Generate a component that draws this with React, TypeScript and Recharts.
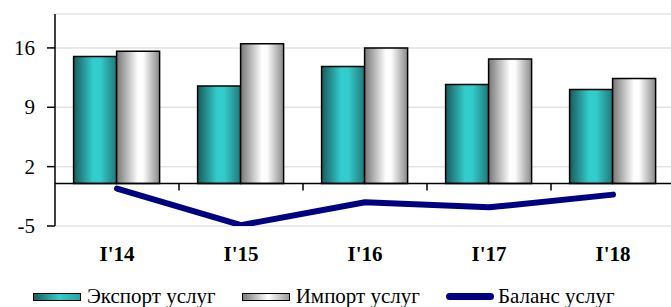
import React from 'react';
import {
    ComposedChart,
    Bar,
    Line,
    XAxis,
    YAxis,
    CartesianGrid,
    Legend,
    ReferenceLine,
} from 'recharts';

const quarters = ["I'14", "I'15", "I'16", "I'17", "I'18"];
const exportServices = [15.0, 11.5, 13.8, 11.7, 11.1];
const importServices = [15.6, 16.5, 16.0, 14.7, 12.4];
const balanceServices = [-0.6, -4.9, -2.2, -2.8, -1.3];
const yTicks = [-5, 2, 9, 16];

const data = quarters.map((q, i) => ({
    name: q,
    exp: exportServices[i],
    imp: importServices[i],
    bal: balanceServices[i],
}));

const serif = '"Liberation Serif", "Times New Roman", serif';

// zero line with small tick marks at category boundaries
const ZeroLine = (props: any) => {
    const { x1, x2, y1 } = props;
    const step = (x2 - x1) / quarters.length;
    return (
        <g>
            <line x1={x1} x2={x2} y1={y1} y2={y1} stroke="#000" strokeWidth={1.5} />
            {quarters.slice(1).map((_, i) => (
                <line
                    key={i}
                    x1={x1 + step * (i + 1)}
                    x2={x1 + step * (i + 1)}
                    y1={y1}
                    y2={y1 + 7}
                    stroke="#000"
                    strokeWidth={1.5}
                />
            ))}
        </g>
    );
};

const QuarterTick = (props: any) => {
    const { x, y, payload } = props;
    return (
        <text
            x={x}
            y={y + 35}
            textAnchor="middle"
            fontFamily={serif}
            fontWeight="bold"
            fontSize={21}
            fill="#000"
        >
            {payload.value}
        </text>
    );
};

const ValueTick = (props: any) => {
    const { x, y, payload } = props;
    return (
        <text x={x} y={y + 7} textAnchor="end" fontFamily={serif} fontSize={21} fill="#000">
            {payload.value}
        </text>
    );
};

const legendItems = [
    { label: 'Экспорт услуг', kind: 'exp' },
    { label: 'Импорт услуг', kind: 'imp' },
    { label: 'Баланс услуг', kind: 'bal' },
];

const LegendContent = () => (
    <div
        style={{
            display: 'flex',
            alignItems: 'center',
            paddingLeft: 33,
            fontFamily: serif,
            fontSize: 21,
            lineHeight: '21px',
            color: '#000',
        }}
    >
        {legendItems.map((item) => (
            <div key={item.kind} style={{ display: 'flex', alignItems: 'center', marginRight: 26 }}>
                {item.kind === 'bal' ? (
                    <div
                        style={{
                            width: 48,
                            height: 7,
                            borderRadius: 4,
                            background: '#000080',
                            marginRight: 4,
                        }}
                    />
                ) : (
                    <div
                        style={{
                            width: 46,
                            height: 6,
                            border: '1px solid #000',
                            background:
                                item.kind === 'exp'
                                    ? 'linear-gradient(to right, #1a5f60, #33cccc 55%, #2aa5a5)'
                                    : 'linear-gradient(to right, #7a7a7a, #ffffff 55%, #9a9a9a)',
                            marginRight: 6,
                        }}
                    />
                )}
                <span>{item.label}</span>
            </div>
        ))}
    </div>
);

export default function App() {
    return (
        <div style={{ position: 'absolute', left: 0, top: 0, width: 671, height: 307, overflow: 'hidden', background: '#fff' }}>
            <ComposedChart
                width={675}
                height={307}
                data={data}
                margin={{ top: 14, right: 0, bottom: 41, left: 0 }}
                barCategoryGap="15%"
                barGap={0}
            >
                <defs>
                    <linearGradient id="gradExp" x1="0" y1="0" x2="1" y2="0">
                        <stop offset="0%" stopColor="#1a5a5b" />
                        <stop offset="45%" stopColor="#33cccc" />
                        <stop offset="62%" stopColor="#33cccc" />
                        <stop offset="100%" stopColor="#207878" />
                    </linearGradient>
                    <linearGradient id="gradImp" x1="0" y1="0" x2="1" y2="0">
                        <stop offset="0%" stopColor="#777777" />
                        <stop offset="50%" stopColor="#ffffff" />
                        <stop offset="62%" stopColor="#fcfcfc" />
                        <stop offset="100%" stopColor="#8a8a8a" />
                    </linearGradient>
                </defs>
                <CartesianGrid vertical={false} stroke="#e3e3e3" strokeWidth={1.5} />
                <XAxis
                    dataKey="name"
                    axisLine={false}
                    tickLine={false}
                    tickSize={0}
                    tickMargin={0}
                    height={40}
                    interval={0}
                    tick={<QuarterTick />}
                />
                <YAxis
                    domain={[-5, 20]}
                    ticks={yTicks}
                    width={55}
                    interval={0}
                    allowDataOverflow
                    axisLine={{ stroke: '#000', strokeWidth: 1.5 }}
                    tickLine={{ stroke: '#000', strokeWidth: 1.5 }}
                    tickSize={8}
                    tickMargin={12}
                    tick={<ValueTick />}
                />
                <ReferenceLine y={0} shape={<ZeroLine />} />
                <Bar dataKey="exp" fill="url(#gradExp)" stroke="#000" strokeWidth={1.5} isAnimationActive={false} />
                <Bar dataKey="imp" fill="url(#gradImp)" stroke="#000" strokeWidth={1.5} isAnimationActive={false} />
                <Line
                    dataKey="bal"
                    type="linear"
                    stroke="#000080"
                    strokeWidth={6}
                    strokeLinecap="round"
                    strokeLinejoin="round"
                    dot={false}
                    activeDot={false}
                    isAnimationActive={false}
                />
                <Legend
                    verticalAlign="middle"
                    align="center"
                    layout="horizontal"
                    content={<LegendContent />}
                    wrapperStyle={{ left: 0, top: 286, width: 671, height: 21 }}
                />
            </ComposedChart>
        </div>
    );
}
